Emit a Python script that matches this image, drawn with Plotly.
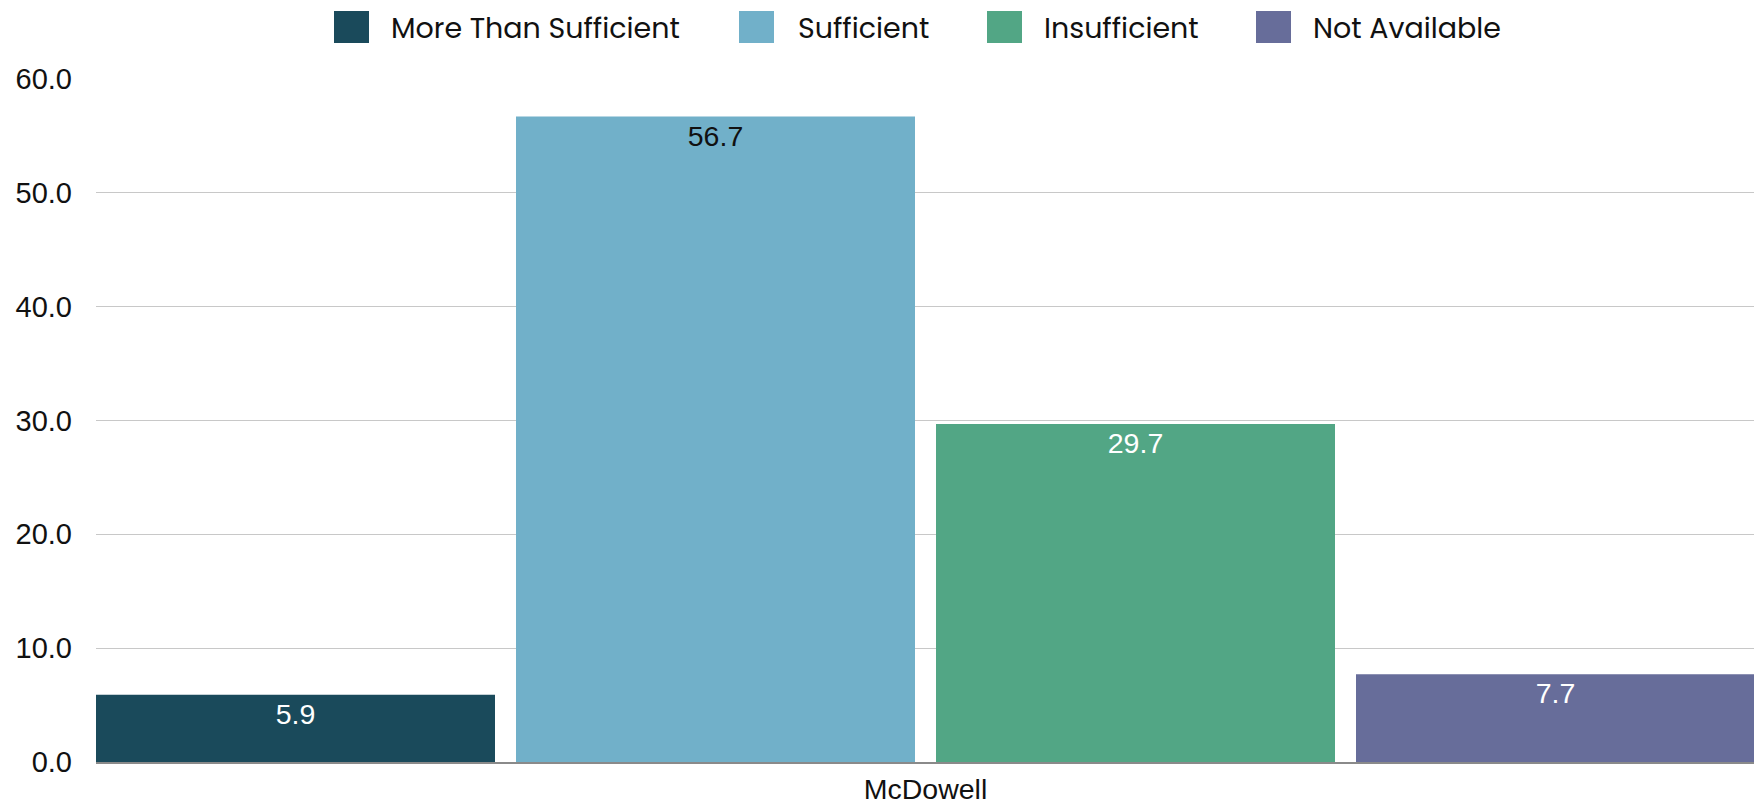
import plotly.graph_objects as go

categories = ["McDowell"]
series_names = ["More Than Sufficient", "Sufficient", "Insufficient", "Not Available"]
series_values = [[5.9], [56.7], [29.7], [7.7]]
colors = ["#1a4a5b", "#71b0c9", "#52a685", "#676d9a"]
label_colors = ["#ffffff", "#111111", "#ffffff", "#ffffff"]
y_ticks = [0, 10, 20, 30, 40, 50, 60]

LEG_FONT = "Poppins, Open Sans, sans-serif"
NUM_FONT = "Liberation Sans, Arial, sans-serif"

# page has an 8px body margin: size the figure to fit inside the window
OFF = 8
W, H = 1762 - OFF, 804 - OFF
ML, MT = 96 - OFF, 79 - OFF
MR = W - (1755 - OFF)
MB = H - (762 - OFF)
PW = W - ML - MR
PH = H - MT - MB

fig = go.Figure()
for name, vals, c, lc in zip(series_names, series_values, colors, label_colors):
    fig.add_trace(go.Bar(
        x=categories, y=vals, name=name,
        marker=dict(color=c, line=dict(width=0)),
        text=[f"{v:.1f}" for v in vals],
        textposition="inside", insidetextanchor="end",
        textfont=dict(color=lc, size=28.5, family=NUM_FONT),
        textangle=0,
        showlegend=False,
    ))

g = 0.05
fig.update_layout(
    width=W, height=H,
    margin=dict(l=ML, r=MR, t=MT, b=MB, autoexpand=False),
    plot_bgcolor="white", paper_bgcolor="white",
    barmode="group", bargap=0, bargroupgap=g,
    font=dict(family=NUM_FONT, size=28, color="#111111"),
    showlegend=False,
)
fig.update_xaxes(
    type="category", range=[-0.5 + 0.125 * g, 0.5 - 0.125 * g],
    showline=True, linecolor="#8a8a8a", linewidth=1.5,
    showgrid=False, ticks="", tickfont=dict(size=28.5, color="#111111", family=NUM_FONT),
    ticklabelstandoff=1, automargin=False,
)
fig.update_yaxes(
    range=[0, 60], tickvals=y_ticks, tickformat=".1f",
    showgrid=True, gridcolor="#c8c8c8", gridwidth=1.2,
    zeroline=False, showline=False, ticks="",
    tickfont=dict(size=29, color="#111111", family=NUM_FONT),
    ticklabelstandoff=23, automargin=False,
)

# Manual legend (larger swatches as in reference); page-pixel positions
legend_sq_x = [334, 739, 987, 1256]
legend_tx_x = [389, 796, 1042, 1311]
sq_w, sq_top, sq_bot = 35, 11, 43
plot_bottom_fig = H - MB
for name, c, sx, tx in zip(series_names, colors, legend_sq_x, legend_tx_x):
    fig.add_shape(
        type="rect", xref="paper", yref="paper",
        x0=(sx - OFF - ML) / PW, x1=(sx + sq_w - OFF - ML) / PW,
        y0=(plot_bottom_fig - (sq_bot - OFF)) / PH, y1=(plot_bottom_fig - (sq_top - OFF)) / PH,
        fillcolor=c, line=dict(width=0),
    )
    fig.add_annotation(
        xref="paper", yref="paper",
        x=(tx - OFF - ML) / PW, y=(plot_bottom_fig - ((sq_top + sq_bot) / 2 + 0.5 - OFF)) / PH,
        xanchor="left", yanchor="middle", showarrow=False,
        text=name, font=dict(size=28.5, color="#111111", family=LEG_FONT),
    )

fig.write_html("out.html")
